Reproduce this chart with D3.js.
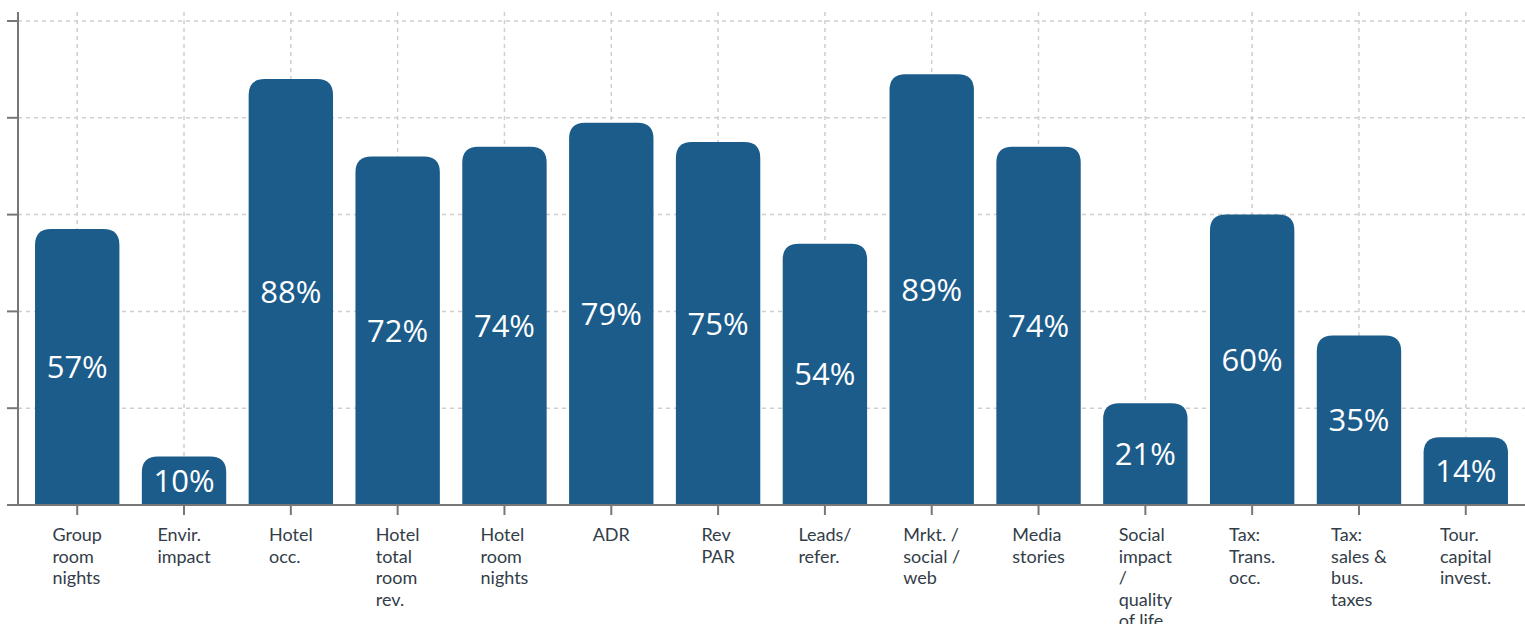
<!DOCTYPE html>
<html>
<head>
<meta charset="utf-8">
<script src="https://cdn.jsdelivr.net/npm/d3@7/dist/d3.min.js"></script>
<style>
  html, body { margin: 0; padding: 0; background: #fff; }
  svg { display: block; }
</style>
</head>
<body>
<svg id="chart" width="1525" height="624"></svg>
<script>
// Category labels (line breaks mark where each label wraps)
const categories = [
  "Group\nroom\nnights",
  "Envir.\nimpact",
  "Hotel\nocc.",
  "Hotel\ntotal\nroom\nrev.",
  "Hotel\nroom\nnights",
  "ADR",
  "Rev\nPAR",
  "Leads/\nrefer.",
  "Mrkt. /\nsocial /\nweb",
  "Media\nstories",
  "Social\nimpact\n/\nquality\nof life",
  "Tax:\nTrans.\nocc.",
  "Tax:\nsales &\nbus.\ntaxes",
  "Tour.\ncapital\ninvest."
];
// Share of respondents, percent
const values = [57, 10, 88, 72, 74, 79, 75, 54, 89, 74, 21, 60, 35, 14];
const yTicks = [0, 20, 40, 60, 80, 100];

const W = 1525, H = 624;
const svg = d3.select("#chart");

const x = d3.scaleBand()
  .domain(d3.range(categories.length))
  .range([19, 1524])
  .paddingInner(0.21)
  .paddingOuter(0.15);

const y = d3.scaleLinear().domain([0, 100]).range([505, 21]);

const axisX0 = 18;       // y axis position
const plotTop = 12;
const base = y(0);

// Horizontal grid
svg.append("g")
  .selectAll("line")
  .data(yTicks.filter(d => d > 0))
  .join("line")
  .attr("x1", axisX0).attr("x2", W)
  .attr("y1", d => y(d)).attr("y2", d => y(d))
  .attr("stroke", "#cfcfcf").attr("stroke-width", 1.5)
  .attr("stroke-dasharray", "4,4");

// Vertical grid at band centres
svg.append("g")
  .selectAll("line")
  .data(d3.range(categories.length))
  .join("line")
  .attr("x1", i => x(i) + x.bandwidth() / 2)
  .attr("x2", i => x(i) + x.bandwidth() / 2)
  .attr("y1", plotTop).attr("y2", base)
  .attr("stroke", "#cfcfcf").attr("stroke-width", 1.5)
  .attr("stroke-dasharray", "4,4");

// Bars with rounded top corners
const r = 16;
function barPath(x0, w, yTop, yBase) {
  const rr = Math.min(r, (yBase - yTop), w / 2);
  return `M${x0},${yBase}V${yTop + rr}Q${x0},${yTop} ${x0 + rr},${yTop}` +
         `H${x0 + w - rr}Q${x0 + w},${yTop} ${x0 + w},${yTop + rr}V${yBase}Z`;
}
svg.append("g")
  .selectAll("path")
  .data(values)
  .join("path")
  .attr("d", (d, i) => barPath(x(i), x.bandwidth(), y(d), base))
  .attr("fill", "#1c5c8b");

// Value labels, centred in each bar
svg.append("g")
  .selectAll("text")
  .data(values)
  .join("text")
  .attr("x", (d, i) => x(i) + x.bandwidth() / 2)
  .attr("y", d => (y(d) + base) / 2)
  .attr("dy", "0.36em")
  .attr("text-anchor", "middle")
  .attr("font-family", "'Open Sans', sans-serif")
  .attr("font-size", 31)
  .attr("fill", "#ffffff")
  .text(d => d + "%");

// Y axis: ticks without labels
const yAxis = svg.append("g");
yAxis.append("line")
  .attr("x1", axisX0).attr("x2", axisX0)
  .attr("y1", plotTop).attr("y2", base)
  .attr("stroke", "#777").attr("stroke-width", 2);
yAxis.selectAll("line.tick")
  .data(yTicks.filter(d => d > 0))
  .join("line")
  .attr("class", "tick")
  .attr("x1", 7).attr("x2", axisX0)
  .attr("y1", d => y(d)).attr("y2", d => y(d))
  .attr("stroke", "#777").attr("stroke-width", 2);

// X axis
const xAxis = svg.append("g");
xAxis.append("line")
  .attr("x1", 7).attr("x2", W)
  .attr("y1", base).attr("y2", base)
  .attr("stroke", "#777").attr("stroke-width", 2);
xAxis.selectAll("line.tick")
  .data(d3.range(categories.length))
  .join("line")
  .attr("class", "tick")
  .attr("x1", i => x(i) + x.bandwidth() / 2)
  .attr("x2", i => x(i) + x.bandwidth() / 2)
  .attr("y1", base).attr("y2", base + 10)
  .attr("stroke", "#777").attr("stroke-width", 2);

// Category labels: left-aligned lines, block centred under the bar
const lineH = 21.5;
const labels = xAxis.selectAll("text.cat")
  .data(categories)
  .join("text")
  .attr("class", "cat")
  .attr("font-family", "Lato, sans-serif")
  .attr("font-size", 18)
  .attr("fill", "#333d48")
  .attr("text-anchor", "start");
labels.each(function (d, i) {
  const t = d3.select(this);
  const lines = d.split("\n");
  lines.forEach((ln, k) => {
    t.append("tspan").attr("y", 541 + k * lineH).text(ln);
  });
  let maxW = 0;
  t.selectAll("tspan").each(function () {
    maxW = Math.max(maxW, this.getComputedTextLength());
  });
  const cx = x(i) + x.bandwidth() / 2;
  t.selectAll("tspan").attr("x", cx - maxW / 2);
});
</script>
</body>
</html>
